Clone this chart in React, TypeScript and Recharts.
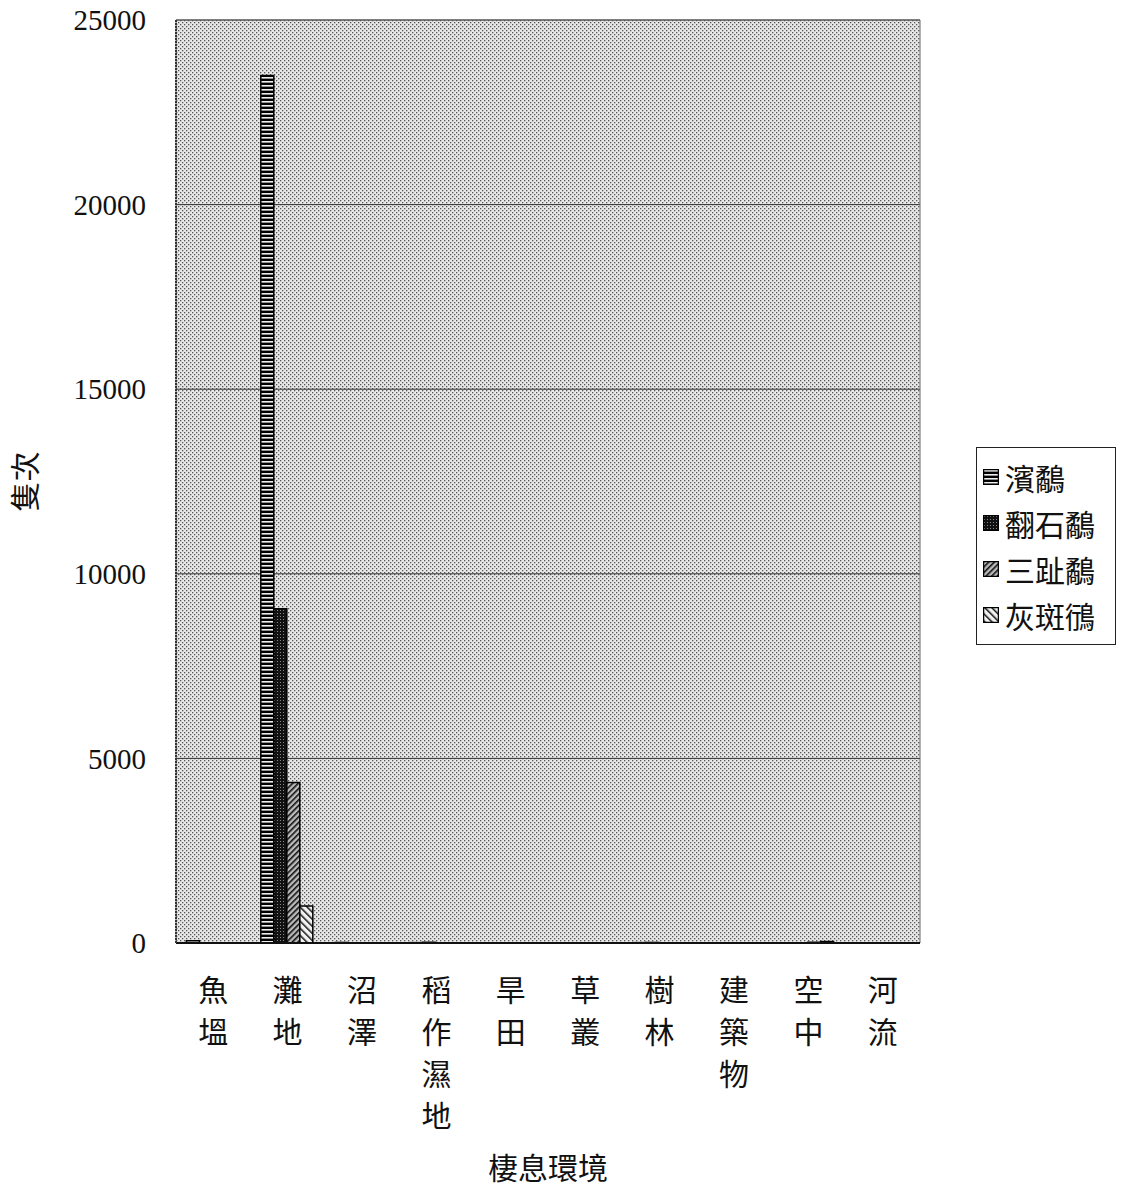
import React from 'react';
import {
  Bar,
  BarChart,
  CartesianGrid,
  ReferenceArea,
  XAxis,
  YAxis,
} from 'recharts';

// 棲息環境
const habitats = ['魚塭', '灘地', '沼澤', '稻作濕地', '旱田', '草叢', '樹林', '建築物', '空中', '河流'];

// 各鳥種隻次
const dunlin = [60, 23500, 15, 10, 0, 0, 10, 0, 0, 0]; // 濱鷸
const turnstone = [0, 9050, 0, 20, 0, 0, 15, 0, 0, 0]; // 翻石鷸
const sanderling = [0, 4350, 0, 0, 0, 0, 0, 0, 20, 0]; // 三趾鷸
const greyPlover = [0, 1000, 0, 0, 0, 0, 0, 0, 40, 0]; // 灰斑鴴

const yTicks = [0, 5000, 10000, 15000, 20000, 25000];

const series = [
  { key: '濱鷸', values: dunlin, pattern: 'p-dunlin' },
  { key: '翻石鷸', values: turnstone, pattern: 'p-turnstone' },
  { key: '三趾鷸', values: sanderling, pattern: 'p-sanderling' },
  { key: '灰斑鴴', values: greyPlover, pattern: 'p-plover' },
];

const data = habitats.map((name, i) => {
  const row: Record<string, string | number> = { name };
  series.forEach((s) => {
    row[s.key] = s.values[i];
  });
  return row;
});

const CJK = '"Noto Sans CJK TC", "Noto Sans CJK SC", sans-serif';
const SERIF = '"Liberation Serif", "DejaVu Serif", serif';

// 直書きの目盛ラベル
function VerticalTick(props: any) {
  const { x, payload } = props;
  const chars = String(payload.value).split('');
  return (
    <g>
      {chars.map((c, i) => (
        <text key={i} x={x} y={1001 + i * 42} textAnchor="middle" fontFamily={CJK} fontSize={30} fill="#111">
          {c}
        </text>
      ))}
    </g>
  );
}

function LegendBox() {
  return (
    <div
      style={{
        position: 'absolute',
        left: 976,
        top: 447,
        border: '1px solid #222',
        background: '#fff',
        width: 140,
        padding: '6px 0 6px 6px',
        boxSizing: 'border-box',
      }}
    >
      {series.map((s) => (
        <div key={s.key} style={{ display: 'flex', alignItems: 'center', height: 46 }}>
          <svg width={16} height={16} style={{ marginRight: 6, flexShrink: 0 }}>
            <rect x={0.5} y={0.5} width={15} height={15} fill={`url(#${s.pattern})`} stroke="#000" strokeWidth={1.5} />
          </svg>
          <span style={{ fontFamily: CJK, fontSize: 30, color: '#111', whiteSpace: 'nowrap', lineHeight: 1 }}>
            {s.key}
          </span>
        </div>
      ))}
    </div>
  );
}

export default function App(): React.JSX.Element {
  return (
    <div style={{ position: 'absolute', left: 0, top: 0, width: 1121, height: 1187, background: '#fff' }}>
      <BarChart
        width={1121}
        height={1187}
        data={data}
        margin={{ top: 20, right: 201, bottom: 0, left: 0 }}
        barCategoryGap="14%"
        barGap={0}
      >
        <defs>
          <pattern id="p-bg" width={4} height={4} patternUnits="userSpaceOnUse">
            <rect width={4} height={4} fill="#e8e8e8" />
            <rect x={0} y={0} width={1.3} height={1.3} fill="#555" />
            <rect x={2} y={2} width={1.3} height={1.3} fill="#555" />
          </pattern>
          <pattern id="p-dunlin" width={6} height={4} patternUnits="userSpaceOnUse">
            <rect width={6} height={4} fill="#000" />
            <rect x={0} y={1} width={6} height={1.6} fill="#eee" />
          </pattern>
          <pattern id="p-turnstone" width={3} height={3} patternUnits="userSpaceOnUse">
            <rect width={3} height={3} fill="#111" />
            <rect x={1} y={1} width={1} height={1} fill="#888" />
          </pattern>
          <pattern id="p-sanderling" width={4} height={4} patternUnits="userSpaceOnUse" patternTransform="rotate(45)">
            <rect width={4} height={4} fill="#bbb" />
            <rect x={0} y={0} width={1.6} height={4} fill="#111" />
          </pattern>
          <pattern id="p-plover" width={5} height={5} patternUnits="userSpaceOnUse" patternTransform="rotate(-45)">
            <rect width={5} height={5} fill="#f2f2f2" />
            <rect x={0} y={0} width={1.5} height={5} fill="#111" />
          </pattern>
        </defs>
        <CartesianGrid vertical={false} fill="url(#p-bg)" fillOpacity={1} stroke="#333" strokeWidth={1} />
        <ReferenceArea y1={0} y2={25000} fill="none" stroke="#666" strokeWidth={1} ifOverflow="visible" />
        <XAxis
          dataKey="name"
          tick={<VerticalTick />}
          tickLine={false}
          axisLine={{ stroke: '#111', strokeWidth: 2 }}
          interval={0}
          height={244}
          label={{
            value: '棲息環境',
            position: 'insideBottom',
            offset: 8,
            style: { fontFamily: CJK, fontSize: 30, fill: '#111' },
          }}
        />
        <YAxis
          domain={[0, 25000]}
          ticks={yTicks}
          width={176}
          tickLine={false}
          tickMargin={24}
          axisLine={{ stroke: '#333', strokeWidth: 2, strokeDasharray: '2 1' }}
          tick={{ fontFamily: SERIF, fontSize: 29, fill: '#111' }}
          label={{
            value: '隻次',
            angle: -90,
            position: 'insideLeft',
            offset: 25,
            style: { fontFamily: CJK, fontSize: 30, fill: '#111', textAnchor: 'middle' },
          }}
        />
        {series.map((s) => (
          <Bar
            key={s.key}
            dataKey={s.key}
            fill={`url(#${s.pattern})`}
            stroke="#000"
            strokeWidth={1.5}
            isAnimationActive={false}
          />
        ))}
      </BarChart>
      <LegendBox />
    </div>
  );
}
